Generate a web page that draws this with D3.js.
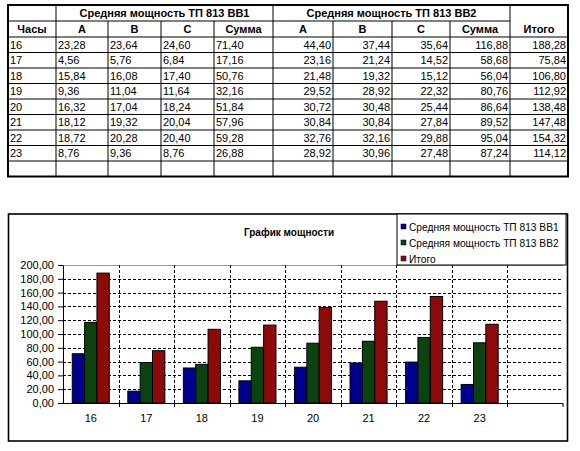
<!DOCTYPE html>
<html>
<head>
<meta charset="utf-8">
<script src="https://cdn.jsdelivr.net/npm/d3@7"></script>
<style>
  body { margin: 0; background: #fff; }
  svg { display: block; font-family: "Liberation Sans", Arial, sans-serif; }
</style>
</head>
<body>
<div class="Sheet"></div>
<script>
// table data
const hours = ["16", "17", "18", "19", "20", "21", "22", "23"];
const bb1A = ["23,28", "4,56", "15,84", "9,36", "16,32", "18,12", "18,72", "8,76"];
const bb1B = ["23,64", "5,76", "16,08", "11,04", "17,04", "19,32", "20,28", "9,36"];
const bb1C = ["24,60", "6,84", "17,40", "11,64", "18,24", "20,04", "20,40", "8,76"];
const bb1Sum = [71.40, 17.16, 50.76, 32.16, 51.84, 57.96, 59.28, 26.88];
const bb2A = ["44,40", "23,16", "21,48", "29,52", "30,72", "30,84", "32,76", "28,92"];
const bb2B = ["37,44", "21,24", "19,32", "28,92", "30,48", "30,84", "32,16", "30,96"];
const bb2C = ["35,64", "14,52", "15,12", "22,32", "25,44", "27,84", "29,88", "27,48"];
const bb2Sum = [116.88, 58.68, 56.04, 80.76, 86.64, 89.52, 95.04, 87.24];
const total = [188.28, 75.84, 106.80, 112.92, 138.48, 147.48, 154.32, 114.12];

const groupHeaders = ["Средняя мощность ТП 813 ВВ1", "Средняя мощность ТП 813 ВВ2"];
const subHeaders = ["Часы", "A", "B", "C", "Сумма", "A", "B", "C", "Сумма", "Итого"];

const seriesNames = ["Средняя мощность ТП 813 ВВ1", "Средняя мощность ТП 813 ВВ2", "Итого"];
const seriesValues = [bb1Sum, bb2Sum, total];
const seriesColors = ["#000090", "#0b420f", "#8e0a0a"];
const yTicks = [0, 20, 40, 60, 80, 100, 120, 140, 160, 180, 200];
const chartTitle = "График мощности";

const fmt = v => v.toFixed(2).replace(".", ",");

const svg = d3.select(".Sheet")
  .append("svg")
  .attr("width", 580)
  .attr("height", 451);

// ---------- table ----------
const colWidths = [48, 52, 53, 53, 59, 60, 59, 58, 60, 58];
const colX = [8];
colWidths.forEach(w => colX.push(colX[colX.length - 1] + w));
const tTop = 5, h1 = 16, h2 = 16, rowH = 15.5;
const dataTop = tTop + h1 + h2;
const nRows = hours.length + 1; // one empty row at the end
const tBottom = dataTop + nRows * rowH;

const table = svg.append("g").attr("class", "table");
const line = (x1, y1, x2, y2, w) => table.append("line")
  .attr("x1", x1).attr("y1", y1).attr("x2", x2).attr("y2", y2)
  .attr("stroke", "#000").attr("stroke-width", w || 1);

// horizontal lines
line(colX[0], tTop + h1, colX[9], tTop + h1);
line(colX[0], dataTop, colX[10], dataTop);
for (let i = 1; i < nRows; i++) line(colX[0], dataTop + i * rowH, colX[10], dataTop + i * rowH);
// vertical lines
colX.slice(1, 10).forEach((x, i) => {
  const full = (i === 0 || i === 4 || i === 8);
  line(x, full ? tTop : tTop + h1, x, tBottom);
});
// outer border
table.append("rect")
  .attr("x", colX[0]).attr("y", tTop)
  .attr("width", colX[10] - colX[0]).attr("height", tBottom - tTop)
  .attr("fill", "none").attr("stroke", "#000").attr("stroke-width", 2);

// headers
groupHeaders.forEach((t, i) => {
  table.append("text")
    .attr("x", (colX[1 + i * 4] + colX[5 + i * 4]) / 2)
    .attr("y", tTop + h1 / 2 + 4)
    .attr("text-anchor", "middle")
    .attr("font-size", 11).attr("font-weight", "bold")
    .text(t);
});
subHeaders.forEach((t, i) => {
  table.append("text")
    .attr("x", (colX[i] + colX[i + 1]) / 2)
    .attr("y", tTop + h1 + h2 / 2 + 4)
    .attr("text-anchor", "middle")
    .attr("font-size", 11).attr("font-weight", "bold")
    .text(t);
});

// body cells
const columns = [hours, bb1A, bb1B, bb1C, bb1Sum.map(fmt), bb2A, bb2B, bb2C, bb2Sum.map(fmt), total.map(fmt)];
columns.forEach((col, c) => {
  const right = c >= 5;
  table.selectAll(null)
    .data(col)
    .enter()
    .append("text")
    .attr("x", right ? colX[c + 1] - 2 : colX[c] + 2)
    .attr("y", (d, i) => dataTop + i * rowH + rowH / 2 + 4)
    .attr("text-anchor", right ? "end" : "start")
    .attr("font-size", 11)
    .text(d => d);
});

// ---------- chart ----------
const box = { x: 8.5, y: 214, w: 559, h: 227 };
svg.append("rect")
  .attr("x", box.x).attr("y", box.y)
  .attr("width", box.w).attr("height", box.h)
  .attr("fill", "#fff").attr("stroke", "#000").attr("stroke-width", 1.6);

const plot = { left: 63, right: 563, top: 265, bottom: 403 };

const cats = hours.concat([""]);
const x = d3.scaleBand().domain(cats).range([plot.left, plot.right]);
const y = d3.scaleLinear().domain([0, 200]).range([plot.bottom, plot.top]);
const barW = x.bandwidth() / 4.5;
const xs = d3.scaleBand().domain(d3.range(3)).range([0, barW * 3]);

// gridlines
const grid = svg.append("g");
grid.selectAll(null)
  .data(yTicks.filter(t => t > 0 && t < 200))
  .enter().append("line")
  .attr("x1", plot.left).attr("x2", plot.right)
  .attr("y1", d => Math.round(y(d)) + 0.5).attr("y2", d => Math.round(y(d)) + 0.5)
  .attr("stroke", "#000").attr("stroke-dasharray", "3,2");
grid.append("line")
  .attr("x1", plot.left).attr("x2", plot.right)
  .attr("y1", plot.top + 0.5).attr("y2", plot.top + 0.5)
  .attr("stroke", "#999");
grid.selectAll(null)
  .data(cats.slice(1))
  .enter().append("line")
  .attr("x1", d => Math.round(x(d)) + 0.5).attr("x2", d => Math.round(x(d)) + 0.5)
  .attr("y1", plot.top).attr("y2", plot.bottom)
  .attr("stroke", "#000").attr("stroke-dasharray", "3,2");

// bars
hours.forEach((h, i) => {
  svg.append("g")
    .attr("transform", `translate(${x(h) + (x.bandwidth() - barW * 3) / 2},0)`)
    .selectAll("rect")
    .data(seriesValues.map(s => s[i]))
    .enter().append("rect")
    .attr("x", (d, k) => xs(k))
    .attr("y", d => y(d))
    .attr("width", xs.bandwidth())
    .attr("height", d => y(0) - y(d))
    .attr("fill", (d, k) => seriesColors[k])
    .attr("stroke", "#000").attr("stroke-width", 1);
});

// axes
const yAxis = svg.append("g")
  .attr("transform", `translate(${plot.left},0)`)
  .call(d3.axisLeft(y).tickValues(yTicks).tickFormat(fmt).tickSize(5).tickSizeOuter(0));
yAxis.selectAll("text").attr("font-size", 11).attr("font-family", "Liberation Sans, Arial").attr("fill", "#000").attr("dx", "-1");
yAxis.select(".domain").attr("stroke", "#000");

const xAxis = svg.append("g")
  .attr("transform", `translate(0,${plot.bottom})`);
xAxis.append("line")
  .attr("x1", plot.left).attr("x2", plot.right)
  .attr("y1", 0.5).attr("y2", 0.5).attr("stroke", "#000");
xAxis.selectAll(null)
  .data(cats.slice(1).concat(["end"]))
  .enter().append("line")
  .attr("x1", (d, i) => i < 8 ? Math.round(x(d)) + 0.5 : plot.right)
  .attr("x2", (d, i) => i < 8 ? Math.round(x(d)) + 0.5 : plot.right)
  .attr("y1", 0).attr("y2", 4).attr("stroke", "#000");
xAxis.selectAll(null)
  .data(hours)
  .enter().append("text")
  .attr("x", d => x(d) + x.bandwidth() / 2)
  .attr("y", 19)
  .attr("text-anchor", "middle")
  .attr("font-size", 11)
  .text(d => d);

// title
svg.append("text")
  .attr("x", 289).attr("y", 236)
  .attr("text-anchor", "middle")
  .attr("font-size", 10).attr("font-weight", "bold")
  .text(chartTitle);

// legend
const legend = svg.append("g").attr("transform", "translate(397,214)");
legend.append("rect")
  .attr("width", 169).attr("height", 51)
  .attr("fill", "#fff").attr("stroke", "#000");
const entries = legend.selectAll("g")
  .data(seriesNames)
  .enter().append("g")
  .attr("transform", (d, i) => `translate(4,${13 + i * 16})`);
entries.append("rect")
  .attr("x", 0).attr("y", -3).attr("width", 5).attr("height", 5)
  .attr("fill", (d, i) => seriesColors[i]).attr("stroke", "#000").attr("stroke-width", 0.5);
entries.append("text")
  .attr("x", 8).attr("y", 4)
  .attr("font-size", 10.2)
  .text(d => d);
</script>
</body>
</html>
